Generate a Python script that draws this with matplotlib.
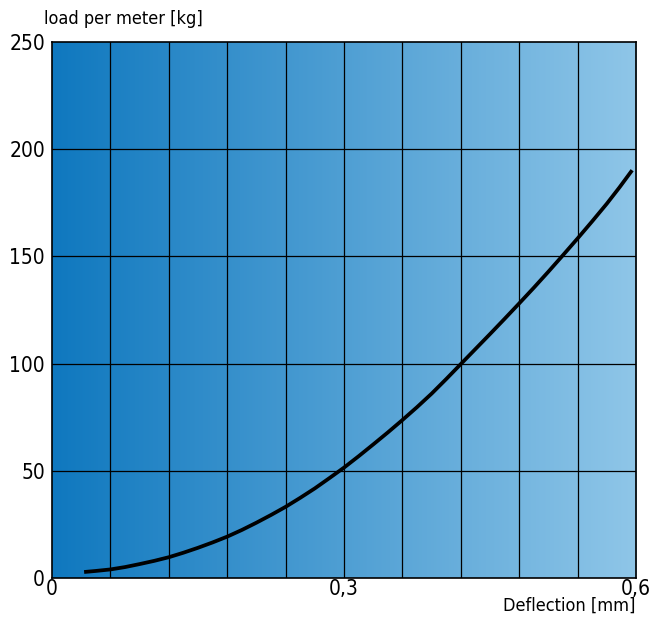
import numpy as np
import matplotlib
matplotlib.use("Agg")
from matplotlib import pyplot as plt
from matplotlib.colors import LinearSegmentedColormap

# curve: deflection [mm] vs load per meter [kg]
deflection = [0.033, 0.045, 0.06, 0.075, 0.09, 0.105, 0.12, 0.135, 0.15, 0.165,
              0.18, 0.195, 0.21, 0.225, 0.24, 0.255, 0.27, 0.285, 0.30, 0.315,
              0.33, 0.345, 0.36, 0.375, 0.39, 0.405, 0.42, 0.435, 0.45, 0.465,
              0.48, 0.495, 0.51, 0.525, 0.54, 0.555, 0.57, 0.583, 0.596]
load = [2.8, 3.3, 4.0, 5.1, 6.5, 8.0, 9.7, 11.8, 14.1, 16.6,
        19.3, 22.4, 25.8, 29.4, 33.2, 37.4, 41.8, 46.6, 51.5, 56.8,
        62.3, 67.9, 73.7, 79.7, 86.0, 92.8, 99.8, 106.8, 113.8, 120.9,
        128.1, 135.4, 142.9, 150.6, 158.4, 166.4, 174.6, 182.2, 190.2]

xticks = [0, 0.3, 0.6]
xticklabels = ["0", "0,3", "0,6"]
yticks = [0, 50, 100, 150, 200, 250]

plt.rcParams['font.family'] = ['DejaVu Sans']
plt.rcParams['font.stretch'] = 'condensed'

fig = plt.figure(figsize=(6.5, 6.18), dpi=100)
ax = fig.add_axes([0.08, 0.0647, 0.8985, 0.8673])

# horizontal blue gradient background
cmap = LinearSegmentedColormap.from_list("bg", ["#0f78bf", "#8fc6e8"])
grad = np.linspace(0, 1, 256).reshape(1, -1)
ax.imshow(grad, cmap=cmap, aspect='auto', extent=[0, 0.6, 0, 250], zorder=0)

for gx in np.arange(0.06, 0.6, 0.06):
    ax.axvline(gx, color='black', lw=0.9, zorder=1)
for gy in yticks[1:-1]:
    ax.axhline(gy, color='black', lw=0.9, zorder=1)

ax.plot(deflection, load, color='black', lw=2.7, zorder=2,
        solid_capstyle='butt', solid_joinstyle='round')

ax.set_xlim(0, 0.6)
ax.set_ylim(0, 250)
ax.set_xticks(xticks)
ax.set_xticklabels(xticklabels)
ax.set_yticks(yticks)
ax.tick_params(axis='x', length=0, labelsize=15, pad=1)
ax.tick_params(axis='y', length=0, labelsize=15, pad=5)
for s in ax.spines.values():
    s.set_linewidth(1.2)

fig.text(0.068, 0.955, "load per meter [kg]", fontsize=13, ha='left', va='bottom')
fig.text(0.977, 0.011, "Deflection [mm]", fontsize=13, ha='right', va='baseline')

fig.savefig("out.png", dpi=100)
